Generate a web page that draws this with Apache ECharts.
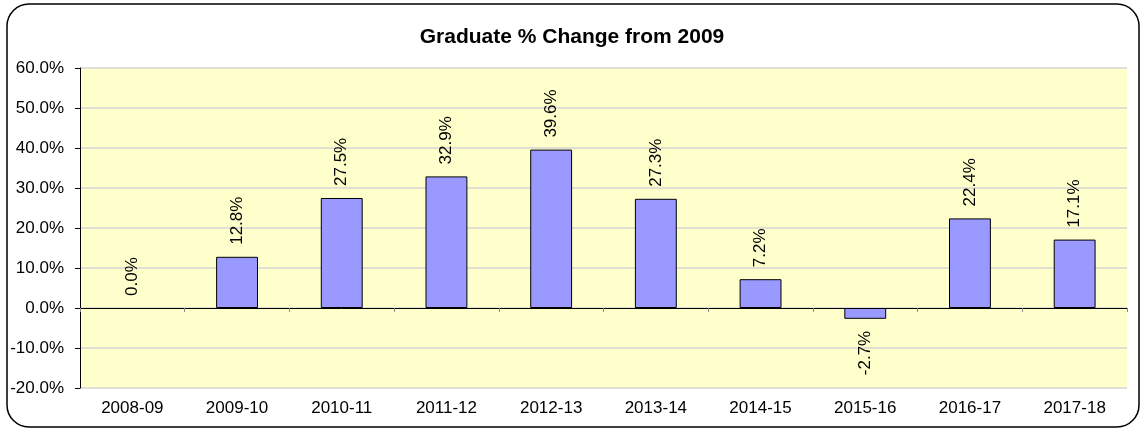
<!DOCTYPE html>
<html>
<head>
<meta charset="utf-8">
<script src="https://cdn.jsdelivr.net/npm/echarts@6/dist/echarts.min.js"></script>
<style>
html, body { margin: 0; padding: 0; background: #fff; }
#chart { width: 1144px; height: 431px; }
</style>
</head>
<body>
<div id="chart"></div>
<script>
// data
var years = ['2008-09', '2009-10', '2010-11', '2011-12', '2012-13', '2013-14', '2014-15', '2015-16', '2016-17', '2017-18'];
var pctChange = [0.0, 12.8, 27.5, 32.9, 39.6, 27.3, 7.2, -2.7, 22.4, 17.1];

var font = 'Liberation Sans, Arial, sans-serif';

var barData = [];
for (var i = 0; i < pctChange.length; i++) {
    var item = { value: pctChange[i] };
    if (pctChange[i] < 0) {
        // label under negative bar
        item.label = { position: 'bottom', align: 'right', distance: 12 };
    }
    if (pctChange[i] === 0) {
        // no visible bar for zero
        item.itemStyle = { borderWidth: 0 };
    }
    barData.push(item);
}

var myChart = echarts.init(document.getElementById('chart'));

var option = {
    animation: false,
    backgroundColor: '#fff',
    title: {
        text: 'Graduate % Change from 2009',
        left: 'center',
        top: 22,
        textStyle: { fontFamily: font, fontSize: 21, fontWeight: 'bold', color: '#000' }
    },
    graphic: [{
        type: 'rect',
        shape: { x: 7, y: 4, width: 1132, height: 423, r: 22 },
        style: { fill: null, stroke: '#000', lineWidth: 1.5 },
        z: -1
    }],
    grid: {
        left: 80, right: 17, top: 68, bottom: 43,
        show: true,
        backgroundColor: '#FFFFCC',
        borderWidth: 0
    },
    xAxis: [{
        // axis line at zero with ticks between categories
        type: 'category',
        data: years,
        position: 'bottom',
        axisLine: { onZero: true, lineStyle: { color: '#000', width: 1 } },
        axisTick: { show: true, length: 4, lineStyle: { color: '#888' } },
        axisLabel: { show: false },
        splitLine: { show: false }
    }, {
        // category labels along the bottom
        type: 'category',
        data: years,
        position: 'bottom',
        axisLine: { show: false, onZero: false },
        axisTick: { show: false },
        axisLabel: { show: true, margin: 12, color: '#000', fontFamily: font, fontSize: 17 },
        splitLine: { show: false }
    }],
    yAxis: {
        type: 'value',
        min: -20,
        max: 60,
        interval: 10,
        axisLine: { show: true, lineStyle: { color: '#000', width: 1 } },
        axisTick: { show: true, length: 5, lineStyle: { color: '#000' } },
        axisLabel: {
            color: '#000', fontFamily: font, fontSize: 17, margin: 16,
            formatter: function (v) { return v.toFixed(1) + '%'; }
        },
        splitLine: { show: true, lineStyle: { color: '#d4d4d4', width: 1.5 } }
    },
    series: [{
        type: 'bar',
        xAxisIndex: 0,
        data: barData,
        barWidth: '40%',
        itemStyle: { color: '#9999FF', borderColor: '#000', borderWidth: 1 },
        label: {
            show: true,
            position: 'top',
            rotate: 90,
            align: 'left',
            verticalAlign: 'middle',
            distance: 12,
            color: '#000',
            fontFamily: font,
            fontSize: 17,
            formatter: function (p) { return p.value.toFixed(1) + '%'; }
        }
    }]
};

myChart.setOption(option);
</script>
</body>
</html>
